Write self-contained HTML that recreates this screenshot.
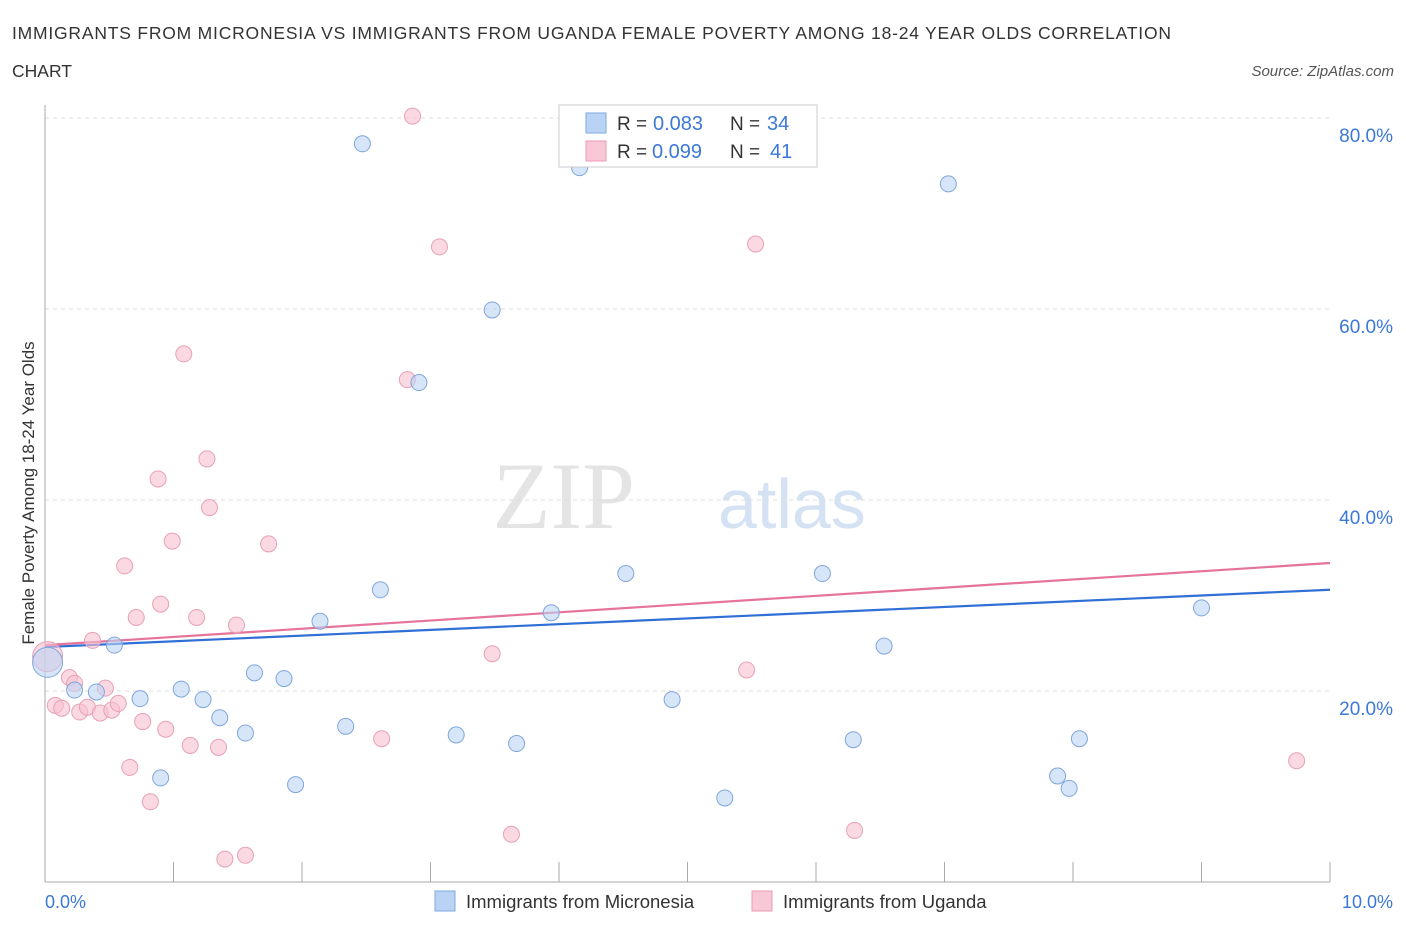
<!DOCTYPE html>
<html><head><meta charset="utf-8"><style>
body{margin:0;background:#fff;font-family:"Liberation Sans",sans-serif;}
</style></head><body>
<svg width="1406" height="930" id="chart" style="display:block">
<text x="12" y="39" font-size="17.5" fill="#333" textLength="1159" lengthAdjust="spacing">IMMIGRANTS FROM MICRONESIA VS IMMIGRANTS FROM UGANDA FEMALE POVERTY AMONG 18-24 YEAR OLDS CORRELATION</text>
<text x="12" y="77" font-size="17.5" fill="#333">CHART</text>
<text x="1394" y="76" font-size="15" fill="#555" font-style="italic" text-anchor="end">Source: ZipAtlas.com</text>
<text x="635" y="528" font-size="95" fill="#e4e4e4" font-family="Liberation Serif,serif" text-anchor="end">ZIP</text>
<text x="718" y="528" font-size="70" fill="#d4e2f4">atlas</text>
<g id="grid"></g><g id="axes"></g><g id="lines"></g><g id="pts"></g>
<text transform="translate(34,493) rotate(-90)" font-size="17" fill="#333" text-anchor="middle">Female Poverty Among 18-24 Year Olds</text>
<text x="45" y="908" font-size="18" fill="#3b78d8">0.0%</text>
<text x="1393" y="908" font-size="18" fill="#3b78d8" text-anchor="end">10.0%</text>
<g>
<rect x="559" y="105" width="258" height="62" fill="#fff" stroke="#ccc"/>
<rect x="586" y="113" width="20" height="20" fill="#b9d3f5" stroke="#7fa8e0"/>
<rect x="586" y="141" width="20" height="20" fill="#f9c8d6" stroke="#eb9ab3"/>
<text x="617" y="130" font-size="19" fill="#333">R =</text>
<text x="653" y="130" font-size="20" fill="#3b78d8">0.083</text>
<text x="730" y="130" font-size="19" fill="#333">N =</text>
<text x="767" y="130" font-size="20" fill="#3b78d8">34</text>
<text x="617" y="158" font-size="19" fill="#333">R =</text>
<text x="652" y="158" font-size="20" fill="#3b78d8">0.099</text>
<text x="730" y="158" font-size="19" fill="#333">N =</text>
<text x="770" y="158" font-size="20" fill="#3b78d8">41</text>
</g>
<g>
<rect x="435" y="891" width="20" height="20" fill="#b9d3f5" stroke="#7fa8e0"/>
<text x="466" y="908" font-size="18.5" fill="#333">Immigrants from Micronesia</text>
<rect x="752" y="891" width="20" height="20" fill="#f9c8d6" stroke="#eb9ab3"/>
<text x="783" y="908" font-size="18.5" fill="#333">Immigrants from Uganda</text>
</g>
</svg>
<script>
const yTicks=[20,40,60,80];
const yTickLabels=["20.0%","40.0%","60.0%","80.0%"];
const xTicks=[0,1,2,3,4,5,6,7,8,9,10];
const blueX=[0.02,0.23,0.40,0.54,0.74,0.90,1.06,1.23,1.36,1.56,1.63,1.86,1.95,2.14,2.34,2.47,2.61,2.91,3.20,3.48,3.67,3.94,4.16,4.52,4.88,5.29,6.05,6.29,6.53,7.03,7.88,7.97,8.05,9.00];
const blueY=[23.0,20.1,19.9,24.8,19.2,10.9,20.2,19.1,17.2,15.6,21.9,21.3,10.2,27.3,16.3,77.3,30.6,52.3,15.4,59.9,14.5,28.2,74.8,32.3,19.1,8.8,32.3,14.9,24.7,73.1,11.1,9.8,15.0,28.7];
const pinkX=[0.02,0.08,0.13,0.19,0.23,0.27,0.33,0.37,0.43,0.47,0.52,0.57,0.62,0.66,0.71,0.76,0.82,0.88,0.90,0.94,0.99,1.08,1.13,1.18,1.26,1.28,1.35,1.40,1.49,1.56,1.74,2.62,2.82,2.86,3.07,3.48,3.63,5.46,5.53,6.30,9.74];
const pinkY=[23.6,18.5,18.2,21.4,20.8,17.8,18.3,25.3,17.7,20.3,18.0,18.7,33.1,12.0,27.7,16.8,8.4,42.2,29.1,16.0,35.7,55.3,14.3,27.7,44.3,39.2,14.1,2.4,26.9,2.8,35.4,15.0,52.6,80.2,66.5,23.9,5.0,22.2,66.8,5.4,12.7];
const blueTrend=[24.6,30.6];
const pinkTrend=[24.8,33.4];
const NS="http://www.w3.org/2000/svg";
const X=v=>45+v*128.5, Y=v=>882-v*9.55;
function mk(t,a,p){const e=document.createElementNS(NS,t);for(const k in a)e.setAttribute(k,a[k]);document.getElementById(p).appendChild(e);return e;}
yTicks.forEach((t,i)=>{
 const g=mk('line',{x1:45,x2:1330,y1:Y(t),y2:Y(t),stroke:'#ddd','stroke-dasharray':'4,4'},'grid');
 
 
 const tx=mk('text',{x:1393,y:Y(t)+24,'font-size':19,fill:'#3b78d8','text-anchor':'end'},'grid');
 tx.textContent=yTickLabels[i];
 
 
});
const xa=mk('line',{x1:45,x2:1330,y1:882,y2:882,stroke:'#aaa'},'axes');


const ya=mk('line',{x1:45,x2:45,y1:105,y2:882,stroke:'#aaa'},'axes');


xTicks.forEach(t=>{
 const l=mk('line',{x1:X(t),x2:X(t),y1:862,y2:882,stroke:'#aaa'},'axes');
 
 
});
function dots(xs,ys,fill,stroke,name){
 xs.forEach((x,i)=>{
  const c=mk('circle',{cx:X(x),cy:Y(ys[i]),r:i===0?15:8,fill:fill,'fill-opacity':0.6,stroke:stroke,'stroke-width':1},'pts');
  
  
 });
}
dots(pinkX,pinkY,'#f9c0d0','#e8a0b6','uganda-point');
dots(blueX,blueY,'#bcd4f4','#7fa6dc','micronesia-point');
const bl=mk('line',{x1:X(0),x2:X(10),y1:Y(blueTrend[0]),y2:Y(blueTrend[1]),stroke:'#2f6fd6','stroke-width':2.2},'lines');


const pl=mk('line',{x1:X(0),x2:X(10),y1:Y(pinkTrend[0]),y2:Y(pinkTrend[1]),stroke:'#e5739a','stroke-width':2.2},'lines');


</script>
</body></html>
